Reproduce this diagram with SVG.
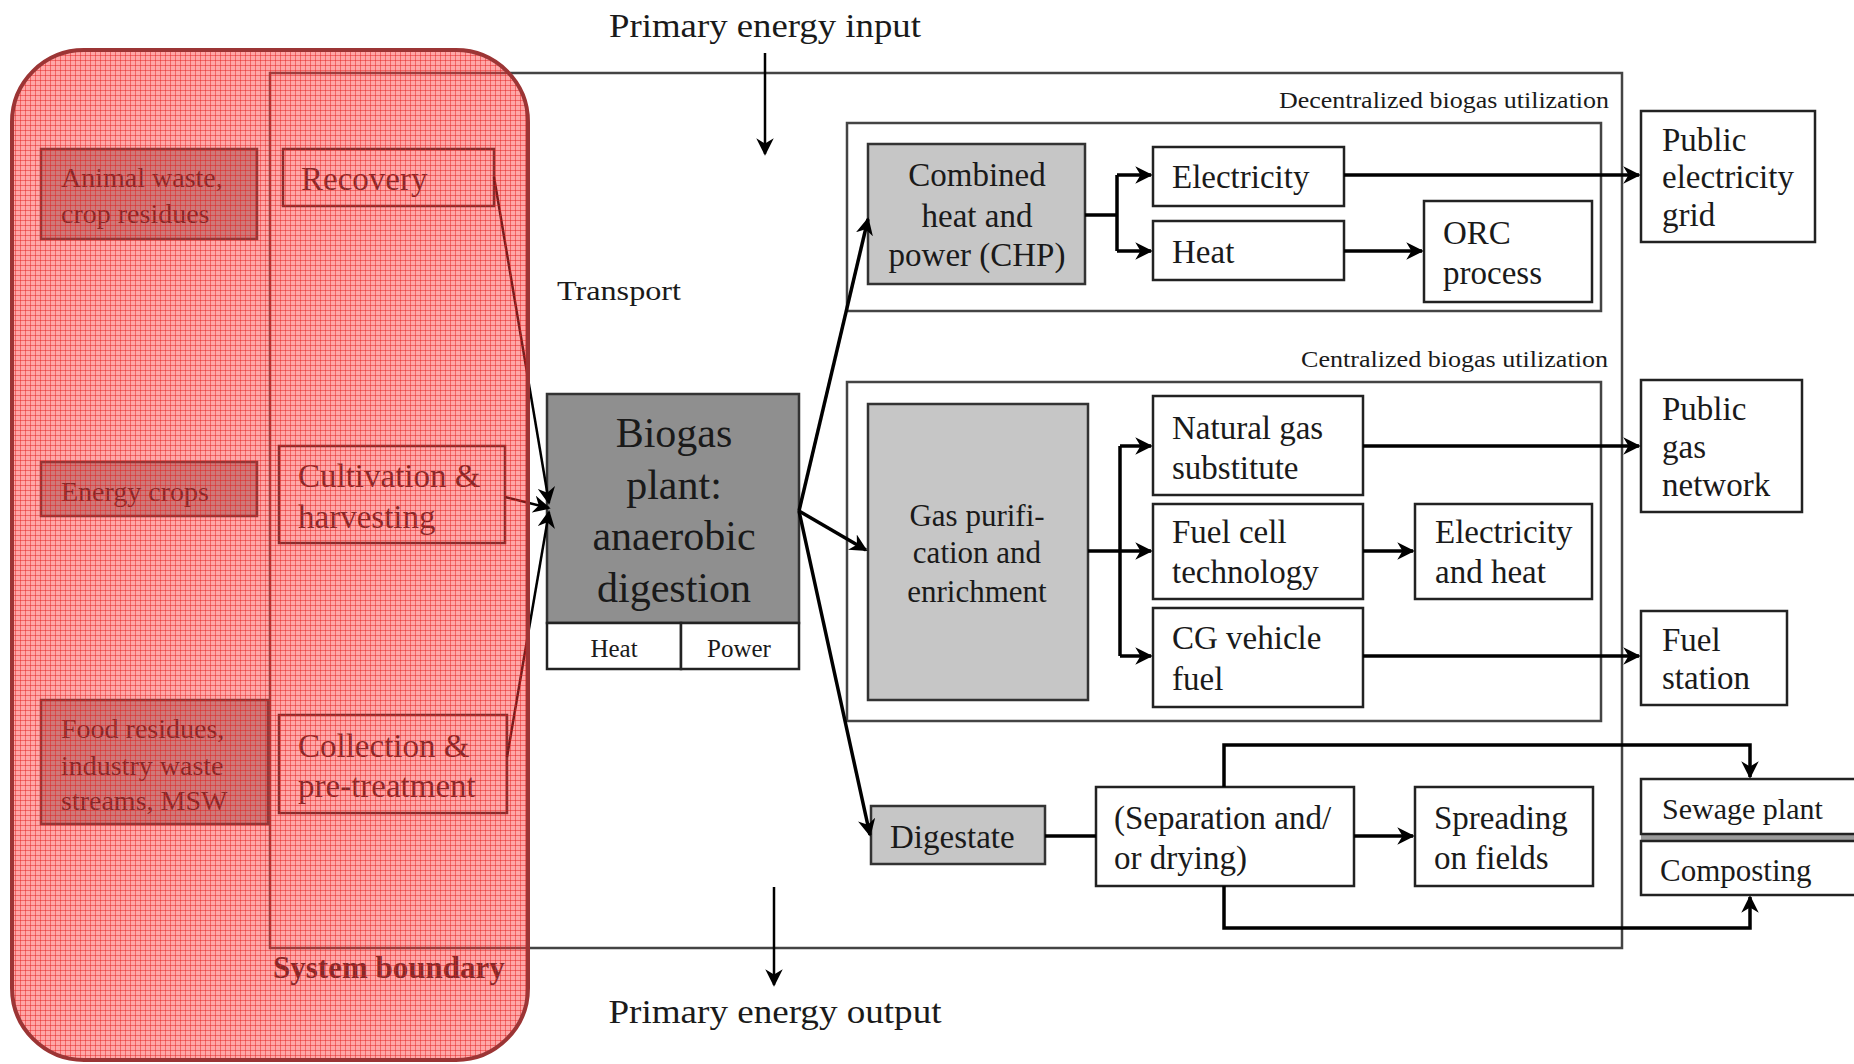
<svg xmlns="http://www.w3.org/2000/svg" width="1854" height="1064" viewBox="0 0 1854 1064">
<style>
text{font-family:"Liberation Serif","Times New Roman",serif;fill:#1a1a1a;dominant-baseline:central}
.t{font-size:33px}
.s{font-size:28px}
.lab{font-size:24px;text-anchor:end}
.c{text-anchor:middle}
.box{fill:#fff;stroke:#222;stroke-width:2.5}
.gray{fill:#c6c6c6;stroke:#333;stroke-width:2.5}
.dk{fill:#a9a9a9;stroke:#333;stroke-width:2.5}
.frame{fill:none;stroke:#444;stroke-width:2.5}
.con{fill:none;stroke:#000;stroke-width:3.5}
.thin{fill:none;stroke:#000;stroke-width:2.5}
</style>
<defs>
<marker id="ah" viewBox="0 0 10 10" refX="9" refY="5" markerWidth="5" markerHeight="5" orient="auto" markerUnits="strokeWidth">
<path d="M0,0 L10,5 L0,10 L3,5 z" fill="#000"/>
</marker>
<marker id="ah2" viewBox="0 0 10 10" refX="9" refY="5" markerWidth="7" markerHeight="7" orient="auto" markerUnits="strokeWidth">
<path d="M0,0 L10,5 L0,10 L3,5 z" fill="#000"/>
</marker>
<pattern id="grid" width="5" height="5" patternUnits="userSpaceOnUse">
<rect width="5" height="5" fill="#ff4040" fill-opacity="0.46"/>
<path d="M0,0.5 H5 M0.5,0 V5" stroke="#e01818" stroke-opacity="0.45" stroke-width="1"/>
</pattern>
</defs>
<rect width="1854" height="1064" fill="#fff"/>

<g id="boundary-frame">
<rect class="frame" x="270" y="73" width="1352" height="875" stroke="#5a5a5a"/>
</g>

<g id="labels">
<text x="765" y="25" class="c" style="font-size:34px" textLength="312" lengthAdjust="spacingAndGlyphs">Primary energy input</text>
<text x="775" y="1011" class="c" style="font-size:34px" textLength="333" lengthAdjust="spacingAndGlyphs">Primary energy output</text>
<text x="557" y="290" style="font-size:28px" textLength="124" lengthAdjust="spacingAndGlyphs">Transport</text>
<text x="1609" y="100" class="lab" textLength="330" lengthAdjust="spacingAndGlyphs">Decentralized biogas utilization</text>
<text x="1608" y="359" class="lab" textLength="307" lengthAdjust="spacingAndGlyphs">Centralized biogas utilization</text>
</g>

<g id="decentralized-group"><rect class="frame" x="847" y="123" width="754" height="188"/></g>
<g id="centralized-group"><rect class="frame" x="847" y="382" width="754" height="339"/></g>

<g id="animal-waste"><rect class="dk" x="41" y="149" width="216" height="90"/>
<text class="s" x="61" y="177">Animal waste,</text><text class="s" x="61" y="213">crop residues</text></g>
<g id="energy-crops"><rect class="dk" x="41" y="462" width="216" height="54"/>
<text class="s" x="61" y="491">Energy crops</text></g>
<g id="food-residues"><rect class="dk" x="41" y="700" width="227" height="124"/>
<text class="s" x="61" y="728">Food residues,</text><text class="s" x="61" y="765">industry waste</text><text class="s" x="61" y="800">streams, MSW</text></g>

<g id="recovery"><rect class="box" x="283" y="149" width="211" height="57"/>
<text class="t" x="301" y="179">Recovery</text></g>
<g id="cultivation"><rect class="box" x="279" y="446" width="226" height="97"/>
<text class="t" x="298" y="476">Cultivation &amp;</text><text class="t" x="298" y="517">harvesting</text></g>
<g id="collection"><rect class="box" x="279" y="715" width="228" height="98"/>
<text class="t" x="298" y="746">Collection &amp;</text><text class="t" x="298" y="786">pre-treatment</text></g>
<g id="system-boundary-label"><text x="273" y="967" style="font-size:31px;font-weight:bold">System boundary</text></g>

<g id="biogas-plant">
<rect x="547" y="394" width="252" height="229" fill="#8f8f8f" stroke="#333" stroke-width="2.5"/>
<rect class="box" x="547" y="623" width="134" height="46"/>
<rect class="box" x="681" y="623" width="118" height="46"/>
<text x="674" y="433" class="c" style="font-size:42px">Biogas</text>
<text x="674" y="485" class="c" style="font-size:42px">plant:</text>
<text x="674" y="536" class="c" style="font-size:42px">anaerobic</text>
<text x="674" y="588" class="c" style="font-size:42px">digestion</text>
<text x="614" y="648" class="c" style="font-size:25px">Heat</text>
<text x="739" y="648" class="c" style="font-size:25px">Power</text>
</g>

<g id="chp"><rect class="gray" x="868" y="144" width="217" height="140"/>
<text class="t c" x="977" y="175">Combined</text><text class="t c" x="977" y="216">heat and</text><text class="t c" x="977" y="255">power (CHP)</text></g>
<g id="electricity"><rect class="box" x="1153" y="147" width="191" height="59"/>
<text class="t" x="1172" y="177">Electricity</text></g>
<g id="heat"><rect class="box" x="1153" y="221" width="191" height="59"/>
<text class="t" x="1172" y="252">Heat</text></g>
<g id="orc"><rect class="box" x="1424" y="201" width="168" height="101"/>
<text class="t" x="1443" y="233">ORC</text><text class="t" x="1443" y="273">process</text></g>
<g id="public-electricity-grid"><rect class="box" x="1641" y="111" width="174" height="131"/>
<text class="t" x="1662" y="140">Public</text><text class="t" x="1662" y="177">electricity</text><text class="t" x="1662" y="215">grid</text></g>

<g id="gas-purification"><rect class="gray" x="868" y="404" width="220" height="296" fill="#cacaca"/>
<text class="c" style="font-size:31px" x="977" y="515">Gas purifi-</text><text class="c" style="font-size:31px" x="977" y="552">cation and</text><text class="c" style="font-size:31px" x="977" y="591">enrichment</text></g>
<g id="natural-gas"><rect class="box" x="1153" y="396" width="210" height="99"/>
<text class="t" x="1172" y="428">Natural gas</text><text class="t" x="1172" y="468">substitute</text></g>
<g id="fuel-cell"><rect class="box" x="1153" y="504" width="210" height="95"/>
<text class="t" x="1172" y="532">Fuel cell</text><text class="t" x="1172" y="572">technology</text></g>
<g id="cg-vehicle"><rect class="box" x="1153" y="608" width="210" height="99"/>
<text class="t" x="1172" y="638">CG vehicle</text><text class="t" x="1172" y="679">fuel</text></g>
<g id="electricity-heat"><rect class="box" x="1415" y="504" width="177" height="95"/>
<text class="t" x="1435" y="532">Electricity</text><text class="t" x="1435" y="572">and heat</text></g>
<g id="public-gas-network"><rect class="box" x="1641" y="380" width="161" height="132"/>
<text class="t" x="1662" y="409">Public</text><text class="t" x="1662" y="447">gas</text><text class="t" x="1662" y="485">network</text></g>
<g id="fuel-station"><rect class="box" x="1641" y="611" width="146" height="94"/>
<text class="t" x="1662" y="640">Fuel</text><text class="t" x="1662" y="678">station</text></g>

<g id="digestate"><rect class="gray" x="871" y="806" width="174" height="58"/>
<text class="t" x="890" y="837">Digestate</text></g>
<g id="separation"><rect class="box" x="1096" y="787" width="258" height="99"/>
<text class="t" x="1114" y="818">(Separation and/</text><text class="t" x="1114" y="858">or drying)</text></g>
<g id="spreading"><rect class="box" x="1415" y="787" width="178" height="99"/>
<text class="t" x="1434" y="818">Spreading</text><text class="t" x="1434" y="858">on fields</text></g>
<g id="sewage-composting-bar"><rect x="1641" y="834" width="220" height="7" fill="#9a9a9a"/></g>
<g id="sewage-plant"><rect class="box" x="1641" y="779" width="220" height="55"/>
<text x="1662" y="808" style="font-size:30px">Sewage plant</text></g>
<g id="composting"><rect class="box" x="1641" y="841" width="220" height="54"/>
<text x="1660" y="870" style="font-size:31px">Composting</text></g>

<g id="connectors">
<line class="thin" x1="765" y1="53" x2="765" y2="154" marker-end="url(#ah2)"/>
<line class="thin" x1="774" y1="887" x2="774" y2="985" marker-end="url(#ah2)"/>
<line class="thin" x1="494" y1="177" x2="549" y2="503" marker-end="url(#ah2)"/>
<line class="thin" x1="505" y1="497" x2="549" y2="508" marker-end="url(#ah2)"/>
<line class="thin" x1="507" y1="757" x2="549" y2="512" marker-end="url(#ah2)"/>
<line class="con" x1="799" y1="511" x2="868" y2="219" marker-end="url(#ah)"/>
<line class="con" x1="799" y1="511" x2="866" y2="550" marker-end="url(#ah)"/>
<line class="con" x1="799" y1="511" x2="870" y2="835" marker-end="url(#ah)"/>
<path class="con" d="M1085,215 H1117"/>
<path class="con" d="M1117,175 V251"/>
<path class="con" d="M1117,175 H1151" marker-end="url(#ah)"/>
<path class="con" d="M1117,251 H1151" marker-end="url(#ah)"/>
<path class="con" d="M1344,175 H1639" marker-end="url(#ah)"/>
<path class="con" d="M1344,251 H1422" marker-end="url(#ah)"/>
<path class="con" d="M1088,551 H1120"/>
<path class="con" d="M1120,446 V656"/>
<path class="con" d="M1120,446 H1151" marker-end="url(#ah)"/>
<path class="con" d="M1120,551 H1151" marker-end="url(#ah)"/>
<path class="con" d="M1120,656 H1151" marker-end="url(#ah)"/>
<path class="con" d="M1363,446 H1639" marker-end="url(#ah)"/>
<path class="con" d="M1363,551 H1413" marker-end="url(#ah)"/>
<path class="con" d="M1363,656 H1639" marker-end="url(#ah)"/>
<path class="con" d="M1045,836 H1096"/>
<path class="con" d="M1354,836 H1413" marker-end="url(#ah)"/>
<path class="con" d="M1224,787 V745 H1750 V777" marker-end="url(#ah)"/>
<path class="con" d="M1224,886 V928 H1750 V897" marker-end="url(#ah)"/>
</g>

<g id="system-boundary-overlay">
<rect x="12" y="50" width="516" height="1010" rx="72" ry="72" fill="url(#grid)" stroke="#9c3535" stroke-width="4"/>
</g>
</svg>
